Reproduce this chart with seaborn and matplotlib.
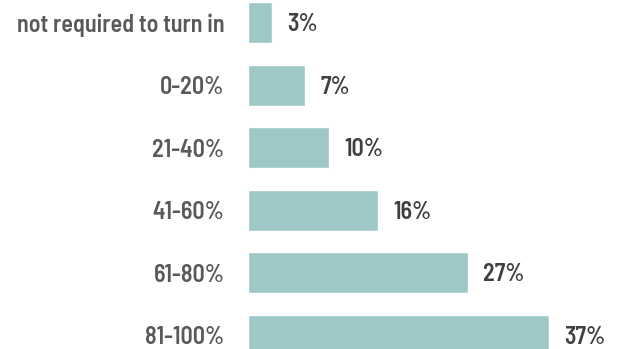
import matplotlib
matplotlib.use("Agg")
import matplotlib.pyplot as plt
from matplotlib import font_manager
import seaborn as sns
import pandas as pd

categories = ["not required to turn in", "0-20%", "21-40%", "41-60%", "61-80%", "81-100%"]
shares = [3, 7, 10, 16, 27, 37]
value_labels = ["3%", "7%", "10%", "16%", "27%", "37%"]

sns.set_theme(style="white")
available = {f.name for f in font_manager.fontManager.ttflist}
family = next((n for n in ["Barlow Semi Condensed", "Asap Condensed", "Liberation Sans"]
               if n in available), "DejaVu Sans")
plt.rcParams["font.family"] = [family, "DejaVu Sans"]

df = pd.DataFrame({"category": categories, "share": shares})

fig = plt.figure(figsize=(6.27, 3.49), dpi=100)
ax = fig.add_axes([248 / 627, 0, 1 - 248 / 627, 1])
sns.barplot(data=df, y="category", x="share", orient="h", color="#9DC8C7",
            saturation=1, width=0.655, ax=ax)

ax.set_xlim(0, 46.6)
ax.set_ylim(5.216, -0.359)
ax.set_xlabel("")
ax.set_ylabel("")
ax.set_xticks([])
for s in ax.spines.values():
    s.set_visible(False)
ax.tick_params(axis="y", length=0, pad=17, labelsize=17.3, labelcolor="#595959")
for t in ax.get_yticklabels():
    t.set_fontweight("semibold")

for i, (v, lab) in enumerate(zip(shares, value_labels)):
    ax.annotate(lab, xy=(v, i), xytext=(11, -1.5), textcoords="offset points",
                va="center", ha="left", fontsize=17.3, fontweight="semibold",
                color="#404040")

fig.savefig("out.png", dpi=100)
